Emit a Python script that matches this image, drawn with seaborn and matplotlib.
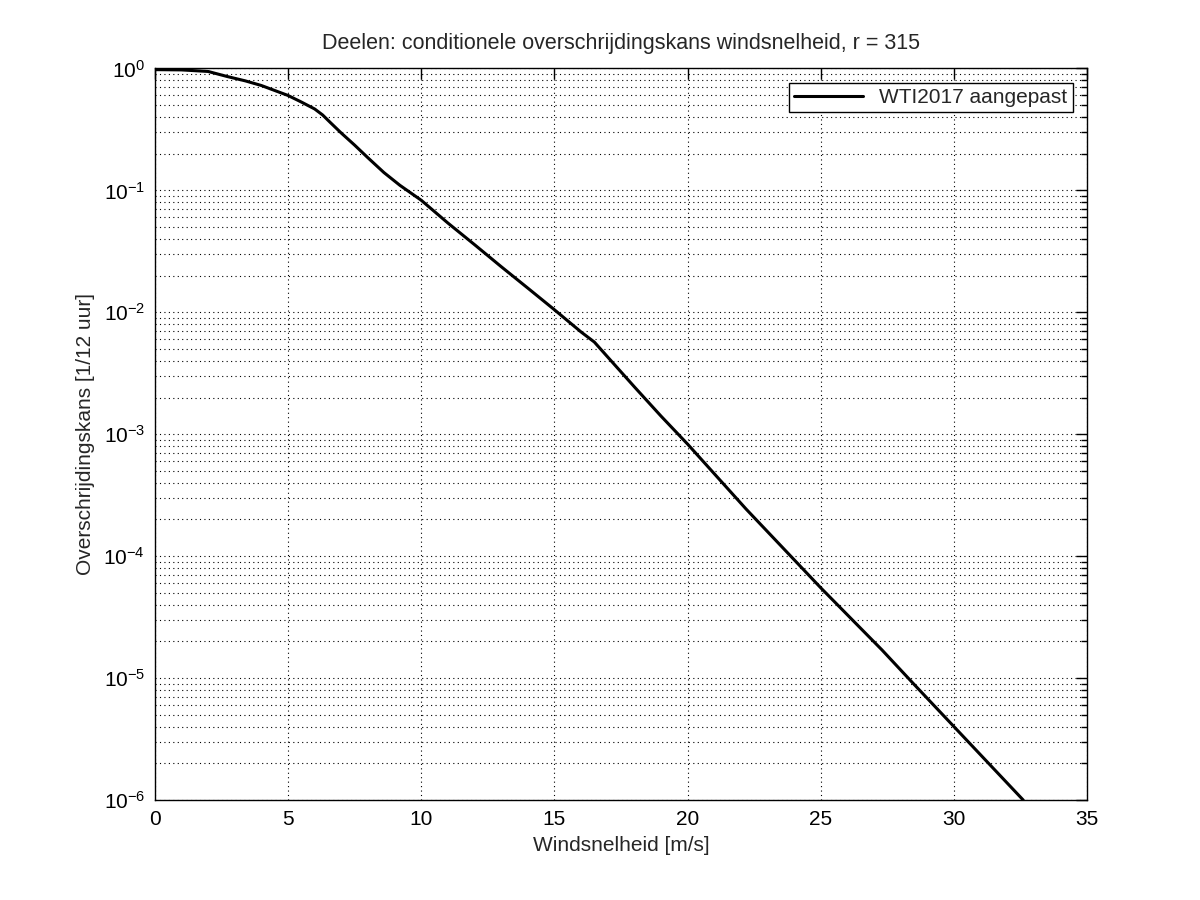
import numpy as np
import pandas as pd
import matplotlib
matplotlib.use("Agg")
import matplotlib.pyplot as plt
import matplotlib.ticker as mticker
import seaborn as sns

# values
windsnelheid = [0.0, 1.0, 2.0, 2.7, 3.4, 4.0, 5.0, 5.5, 6.0, 6.3, 6.6, 7.0,
                7.5, 8.0, 8.6, 9.2, 10.0, 11.0, 12.0, 13.0, 14.0, 15.0,
                16.0, 16.5, 17.0, 18.0, 19.0, 20.0, 22.2, 25.0, 27.3, 28.5,
                30.0, 32.6]
kans = [0.977, 0.972, 0.944, 0.86, 0.79, 0.724, 0.60, 0.53, 0.465, 0.415,
        0.358, 0.295, 0.235, 0.185, 0.14, 0.11, 0.083, 0.054, 0.0359,
        0.0237, 0.0158, 0.0105, 0.0069, 0.0057, 0.0043, 0.00245, 0.00141,
        8.3e-4, 2.43e-4, 5.5e-5, 1.7e-5, 8.9e-6, 4.0e-6, 1.0e-6]
reeks = "WTI2017 aangepast"
y_ticks = [1e-6, 1e-5, 1e-4, 1e-3, 1e-2, 1e-1, 1e0]

df = pd.DataFrame({"u": windsnelheid, "p": kans, "reeks": reeks})

sns.set_style("white")
plt.rcParams["font.family"] = ["Liberation Sans", "DejaVu Sans"]
plt.rcParams["mathtext.fontset"] = "custom"
plt.rcParams["mathtext.rm"] = "Liberation Sans"

fig = plt.figure(figsize=(12, 9), dpi=100)
ax = fig.add_axes([0.129, 0.111, 0.777, 0.813])

sns.lineplot(data=df, x="u", y="p", hue="reeks", palette=["black"],
             linewidth=2.2, ax=ax)

ax.set_yscale("log")
ax.set_xlim(0, 35)
ax.set_ylim(1e-6, 1)
ax.xaxis.set_major_locator(mticker.MultipleLocator(5))
ax.yaxis.set_major_locator(mticker.FixedLocator(y_ticks))
ax.yaxis.set_major_formatter(mticker.LogFormatterSciNotation())
ax.yaxis.set_minor_locator(mticker.LogLocator(base=10, subs=np.arange(2, 10), numticks=20))
ax.yaxis.set_minor_formatter(mticker.NullFormatter())

ax.grid(True, which="major", axis="both", color="black", linestyle=(0, (1, 3)), linewidth=0.8)
ax.grid(True, which="minor", axis="y", color="black", linestyle=(0, (1, 3)), linewidth=0.8)

ax.tick_params(which="both", direction="in", top=True, right=True, labelsize=15,
               colors="black", pad=7)
ax.tick_params(which="major", length=8, width=1)
ax.tick_params(which="minor", length=4, width=1)
for s in ax.spines.values():
    s.set_color("black")
    s.set_linewidth(1)

ax.set_xlabel("Windsnelheid [m/s]", fontsize=15, labelpad=5)
ax.set_ylabel("Overschrijdingskans [1/12 uur]", fontsize=15, labelpad=6)
ax.set_title("Deelen: conditionele overschrijdingskans windsnelheid, r = 315",
             fontsize=15.5, pad=14)

leg = ax.legend(loc="upper right", fontsize=15, frameon=True, fancybox=False,
                borderaxespad=0.7, handlelength=3.3, borderpad=0.25)
leg.get_frame().set_edgecolor("black")
leg.get_frame().set_linewidth(1)
leg.get_frame().set_alpha(1)

fig.savefig("out.png", dpi=100, facecolor="white")
